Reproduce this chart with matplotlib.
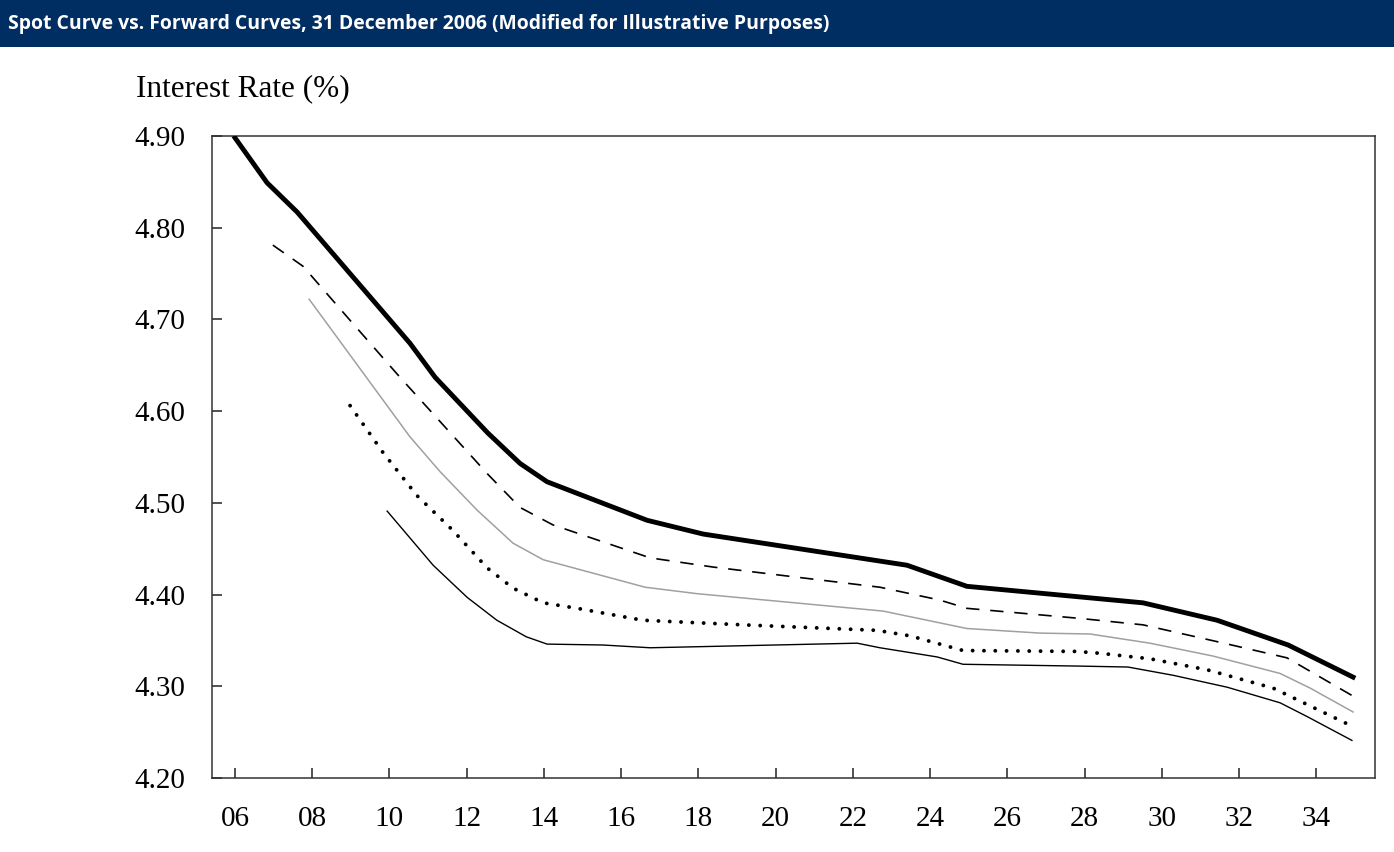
import matplotlib
matplotlib.use("Agg")
import matplotlib.pyplot as plt
from matplotlib.patches import Rectangle

# spot curve
spot_x = [2006.00, 2006.83, 2007.61, 2010.53, 2011.18, 2012.55, 2013.38, 2014.08,
          2016.67, 2018.12, 2023.40, 2024.95, 2029.51, 2031.43, 2033.27, 2034.95]
spot_y = [4.898, 4.849, 4.817, 4.674, 4.637, 4.576, 4.543, 4.523,
          4.481, 4.466, 4.432, 4.409, 4.391, 4.372, 4.345, 4.310]

# forward curves
fwd1_x = [2006.98, 2007.76, 2008.98, 2010.27, 2011.13, 2012.55, 2013.38, 2014.23, 2016.75,
          2018.38, 2022.70, 2024.25, 2024.95, 2027.88, 2029.51, 2031.50, 2033.24, 2034.92]
fwd1_y = [4.781, 4.758, 4.699, 4.637, 4.597, 4.531, 4.495, 4.476, 4.440,
          4.430, 4.408, 4.394, 4.385, 4.374, 4.367, 4.348, 4.331, 4.290]

fwd2_x = [2007.92, 2010.53, 2011.31, 2012.27, 2013.20, 2013.98, 2016.62, 2017.96,
          2022.78, 2024.95, 2026.84, 2028.14, 2029.69, 2031.32, 2033.06, 2033.84, 2034.95]
fwd2_y = [4.722, 4.572, 4.534, 4.492, 4.456, 4.438, 4.408, 4.401,
          4.382, 4.363, 4.358, 4.357, 4.347, 4.333, 4.314, 4.298, 4.272]

fwd3_x = [2008.98, 2009.83, 2010.71, 2011.64, 2012.53, 2013.20, 2013.98, 2014.86, 2016.56, 2019.15,
          2022.62, 2023.48, 2024.85, 2027.80, 2028.40, 2029.69, 2031.17, 2032.88, 2034.95]
fwd3_y = [4.606, 4.555, 4.508, 4.470, 4.429, 4.407, 4.391, 4.385, 4.372, 4.367,
          4.361, 4.355, 4.339, 4.338, 4.336, 4.330, 4.318, 4.298, 4.256]

fwd4_x = [2009.94, 2011.13, 2012.01, 2012.78, 2013.54, 2014.08, 2015.53, 2016.75, 2022.11, 2022.70,
          2024.18, 2024.85, 2027.88, 2029.12, 2030.29, 2031.69, 2033.06, 2033.76, 2034.92]
fwd4_y = [4.491, 4.432, 4.397, 4.372, 4.354, 4.346, 4.345, 4.342, 4.347, 4.342,
          4.332, 4.324, 4.322, 4.321, 4.312, 4.299, 4.282, 4.267, 4.241]

xticks = list(range(2006, 2035, 2))
xlabels = ["%02d" % (t % 100) for t in xticks]
yticks = [4.20, 4.30, 4.40, 4.50, 4.60, 4.70, 4.80, 4.90]

title = "Spot Curve vs. Forward Curves, 31 December 2006 (Modified for Illustrative Purposes)"

W, H = 1394, 852
fig = plt.figure(figsize=(W / 100, H / 100), dpi=100)

# title bar
fig.patches.append(Rectangle((0, 1 - 47 / H), 1, 47 / H, transform=fig.transFigure,
                             facecolor="#002d62", edgecolor="none", zorder=0))
fig.text(8 / W, 1 - 24 / H, title, color="white", fontsize=13.95, fontweight="bold",
         family="Open Sans", ha="left", va="center")

ax = fig.add_axes([212 / W, 1 - 778 / H, (1375 - 212) / W, (778 - 136) / H])

ax.plot(spot_x, spot_y, color="black", lw=3.5, solid_joinstyle="miter", zorder=5)
ax.plot(fwd1_x, fwd1_y, color="black", lw=1.2, dashes=(8, 6.5))
ax.plot(fwd2_x, fwd2_y, color="#a0a0a0", lw=1.1)
ax.plot(fwd3_x, fwd3_y, color="black", lw=2.8, dashes=(0.01, 2.9), dash_capstyle="round")
ax.plot(fwd4_x, fwd4_y, color="black", lw=1.0)

ax.set_xlim(2005.404, 2035.518)
ax.set_ylim(4.20, 4.90)
ax.set_xticks(xticks)
ax.set_xticklabels(xlabels)
ax.set_yticks(yticks)
ax.set_yticklabels(["%.2f" % v for v in yticks])

serif = "Liberation Serif"
for lab in ax.get_xticklabels() + ax.get_yticklabels():
    lab.set_fontfamily(serif)
    lab.set_fontsize(21)

ax.tick_params(axis="both", direction="in", length=7, width=1.1, color="#222222")
ax.tick_params(axis="y", pad=19)
ax.tick_params(axis="x", pad=20)
for s in ax.spines.values():
    s.set_linewidth(1.1)
    s.set_color("#333333")

fig.text(136 / W, 1 - 96 / H, "Interest Rate (%)", family=serif, fontsize=22.5,
         ha="left", va="baseline")

fig.savefig("out.png", dpi=100)
